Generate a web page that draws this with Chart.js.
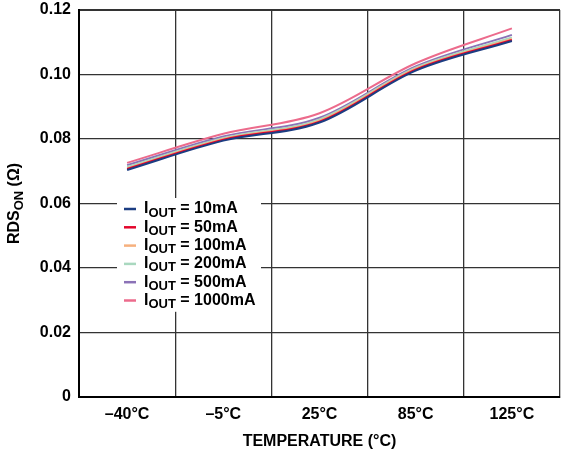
<!DOCTYPE html>
<html>
<head>
<meta charset="utf-8">
<script src="https://cdn.jsdelivr.net/npm/chart.js@4/dist/chart.umd.min.js"></script>
<style>
  html, body { margin: 0; padding: 0; background: #fff; }
  #wrap { width: 561px; height: 454px; position: relative; }
</style>
</head>
<body>
<div id="wrap"><canvas id="c"></canvas></div>
<script>
const temperatures = ['–40°C', '–5°C', '25°C', '85°C', '125°C'];
const currents = ['10mA', '50mA', '100mA', '200mA', '500mA', '1000mA'];
const colors = ['#1c3d82', '#e3062c', '#f6b07e', '#a9d8bf', '#8b72b7', '#ec6b8c'];

const rds10mA = [0.0704, 0.0795, 0.0851, 0.1012, 0.1104];
const rds50mA = [0.0707, 0.0798, 0.0854, 0.1015, 0.1107];
const rds100mA = [0.0709, 0.0800, 0.0857, 0.1018, 0.1110];
const rds200mA = [0.0713, 0.0803, 0.0861, 0.1021, 0.1115];
const rds500mA = [0.0719, 0.0808, 0.0866, 0.1025, 0.1123];
const rds1000mA = [0.0726, 0.0816, 0.0880, 0.1035, 0.1143];

const yTicks = [0, 0.02, 0.04, 0.06, 0.08, 0.10, 0.12];

(function() {
  const FONT = '"Liberation Sans", Arial, sans-serif';
  const series = [rds10mA, rds50mA, rds100mA, rds200mA, rds500mA, rds1000mA];

  // text with a lowered, smaller part: [[text, isSub], ...]
  function drawParts(ctx, parts, x, y) {
    parts.forEach(p => {
      ctx.font = (p[1] ? 'bold 13px ' : 'bold 16px ') + FONT;
      ctx.fillText(p[0], x, p[1] ? y + 4 : y);
      x += ctx.measureText(p[0]).width;
    });
  }

  function partsWidth(ctx, parts) {
    let w = 0;
    parts.forEach(p => {
      ctx.font = (p[1] ? 'bold 13px ' : 'bold 16px ') + FONT;
      w += ctx.measureText(p[0]).width;
    });
    return w;
  }

  const annotations = {
    id: 'annotations',
    afterDraw(chart) {
      const ctx = chart.ctx;
      const area = chart.chartArea;
      ctx.save();
      ctx.fillStyle = '#000';
      ctx.textBaseline = 'middle';

      // y axis title
      const title = [['RDS', false], ['ON', true], [' (Ω)', false]];
      ctx.save();
      ctx.translate(15, (area.top + area.bottom) / 2);
      ctx.rotate(-Math.PI / 2);
      drawParts(ctx, title, -partsWidth(ctx, title) / 2, 0);
      ctx.restore();

      // legend
      const x0 = area.left + 38;
      const y0 = area.top + 188;
      const rowH = 18.3;
      ctx.fillStyle = '#fff';
      ctx.fillRect(x0, y0, 144, rowH * currents.length + 4);
      currents.forEach((name, i) => {
        const y = y0 + 11 + i * rowH;
        ctx.strokeStyle = colors[i];
        ctx.lineWidth = 2.5;
        ctx.beginPath();
        ctx.moveTo(x0 + 7, y);
        ctx.lineTo(x0 + 19, y);
        ctx.stroke();
        ctx.fillStyle = '#000';
        drawParts(ctx, [['I', false], ['OUT', true], [' = ' + name, false]], x0 + 27, y);
      });
      ctx.restore();
    }
  };

  const datasets = series.map((data, i) => ({
    label: 'IOUT = ' + currents[i],
    data: data,
    borderColor: colors[i],
    backgroundColor: colors[i],
    borderWidth: 2,
    pointRadius: 0,
    cubicInterpolationMode: 'monotone',
    fill: false
  }));

  new Chart(document.getElementById('c'), {
    type: 'line',
    data: { labels: temperatures, datasets: datasets },
    plugins: [annotations],
    options: {
      responsive: true,
      maintainAspectRatio: false,
      animation: false,
      layout: { padding: { top: 10, right: 1, left: 0, bottom: 0 } },
      plugins: {
        legend: { display: false },
        tooltip: { enabled: false }
      },
      scales: {
        x: {
          type: 'category',
          offset: true,
          afterFit: scale => {
            scale.height = 57;
            scale.paddingLeft = 0;
            scale.paddingRight = 0;
          },
          grid: {
            offset: true,
            drawTicks: false,
            color: '#333',
            lineWidth: ctx => ctx.index === temperatures.length ? 2 : 1.3
          },
          border: { color: '#000', width: 2 },
          ticks: {
            padding: 8,
            color: '#000',
            font: { family: FONT, size: 16, weight: 'bold' }
          },
          title: {
            display: true,
            text: 'TEMPERATURE (°C)',
            color: '#000',
            padding: { top: 0, bottom: 3 },
            font: { family: FONT, size: 16, weight: 'bold' }
          }
        },
        y: {
          min: 0,
          max: 0.12,
          afterFit: scale => {
            scale.width = 79;
            scale.paddingTop = 0;
            scale.paddingBottom = 0;
          },
          afterBuildTicks: scale => { scale.ticks = yTicks.map(v => ({ value: v })); },
          grid: {
            drawTicks: false,
            color: '#333',
            lineWidth: ctx => ctx.tick && ctx.tick.value === 0.12 ? 2 : 1.3
          },
          border: { color: '#000', width: 2 },
          ticks: {
            padding: 8,
            color: '#000',
            font: { family: FONT, size: 16, weight: 'bold' },
            callback: v => v === 0 ? '0' : v.toFixed(2)
          }
        }
      }
    }
  });
})();
</script>
</body>
</html>
